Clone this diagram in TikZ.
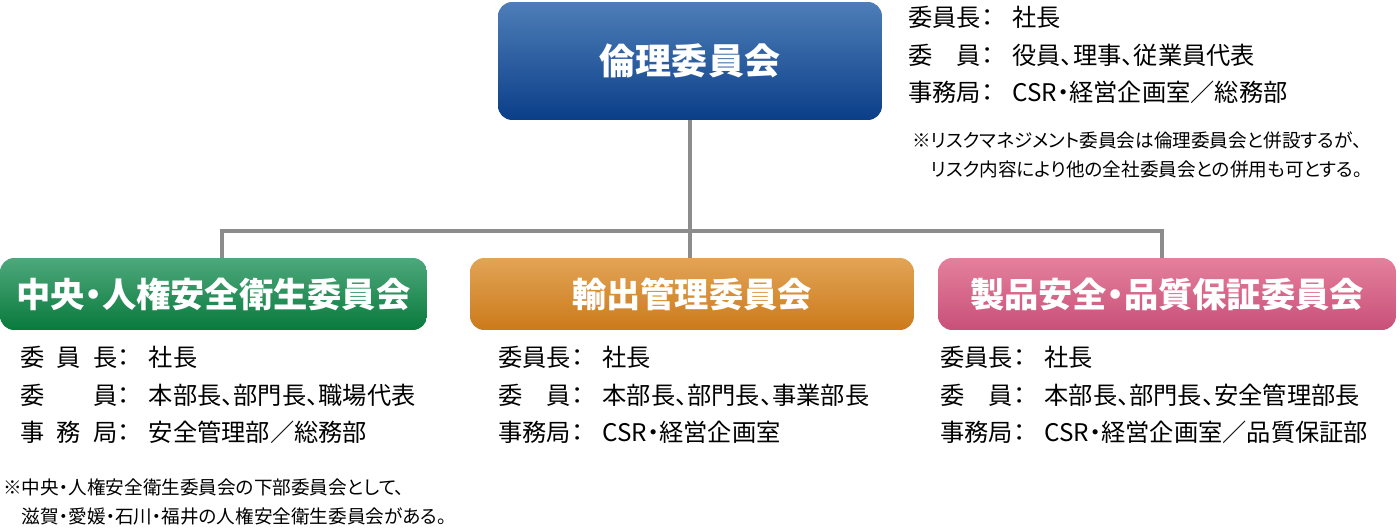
\documentclass[tikz,border=0pt]{standalone}
\usepackage{fontspec}
\setmainfont{Noto Sans CJK JP}[RawFeature=+palt]
\usetikzlibrary{positioning}
\definecolor{lineg}{HTML}{8C8C8C}
\newcommand\colsep{\makebox[1.3em][l]{：}}
\begin{document}
\begin{tikzpicture}[x=0.02cm,y=-0.02cm,
    comm/.style={rounded corners=8pt,text=white,minimum height=1.44cm,
        inner sep=0pt,font=\bfseries\fontsize{19.5}{22}\selectfont},
    info/.style={anchor=north west,align=left,inner sep=0pt,
        font=\fontsize{13.8}{21.3}\selectfont},
    note/.style={anchor=north west,align=left,inner sep=0pt,
        font=\fontsize{10.6}{17}\selectfont},
    link/.style={lineg,line width=2.2pt}]
    \useasboundingbox (0,0) rectangle (1400,530);

    % committees
    \node[comm,top color={rgb,255:red,78;green,126;blue,184},bottom color={rgb,255:red,10;green,62;blue,136},
        minimum width=7.68cm,minimum height=2.36cm,font=\bfseries\fontsize{20.5}{24}\selectfont]
        (rinri) at (690,61) {倫理委員会};
    \node[comm,top color={rgb,255:red,78;green,168;blue,124},bottom color={rgb,255:red,8;green,122;blue,60},
        minimum width=8.54cm] (chuo) at (213.5,294) {中央・人権安全衛生委員会};
    \node[comm,top color={rgb,255:red,226;green,164;blue,86},bottom color={rgb,255:red,204;green,122;blue,26},
        minimum width=8.88cm] (yushutsu) at (692,294) {輸出管理委員会};
    \node[comm,top color={rgb,255:red,228;green,128;blue,156},bottom color={rgb,255:red,200;green,80;blue,122},
        minimum width=9.16cm] (seihin) at (1167,294) {製品安全・品質保証委員会};

    % connectors
    \coordinate (hub) at (690,231);
    \draw[link] (rinri.south) -- (yushutsu.north -| rinri.south);
    \draw[link] (chuo.north -| 222,0) |- (hub) -| (seihin.north -| 1162,0);

    % members
    \node[info] (rinriinfo) at (908,6) {委員長\colsep 社長\\委\hspace{1em}員\colsep 役員、理事、従業員代表\\事務局\colsep CSR・経営企画室／総務部};
    \node[note] (rinrinote) at (912,131) {※リスクマネジメント委員会は倫理委員会と併設するが、\\\hspace{1em}リスク内容により他の全社委員会との併用も可とする。};
    \node[info] (chuoinfo) at (20,346) {委\hspace{0.5em}員\hspace{0.5em}長\colsep 社長\\委\hspace{2em}員\colsep 本部長、部門長、職場代表\\事\hspace{0.5em}務\hspace{0.5em}局\colsep 安全管理部／総務部};
    \node[note] (chuonote) at (3,478) {※中央・人権安全衛生委員会の下部委員会として、\\\hspace{1em}滋賀・愛媛・石川・福井の人権安全衛生委員会がある。};
    \node[info] (yushutsuinfo) at (498,346) {委員長\colsep 社長\\委\hspace{1em}員\colsep 本部長、部門長、事業部長\\事務局\colsep CSR・経営企画室};
    \node[info] (seihininfo) at (940,346) {委員長\colsep 社長\\委\hspace{1em}員\colsep 本部長、部門長、安全管理部長\\事務局\colsep CSR・経営企画室／品質保証部};
\end{tikzpicture}
\end{document}
